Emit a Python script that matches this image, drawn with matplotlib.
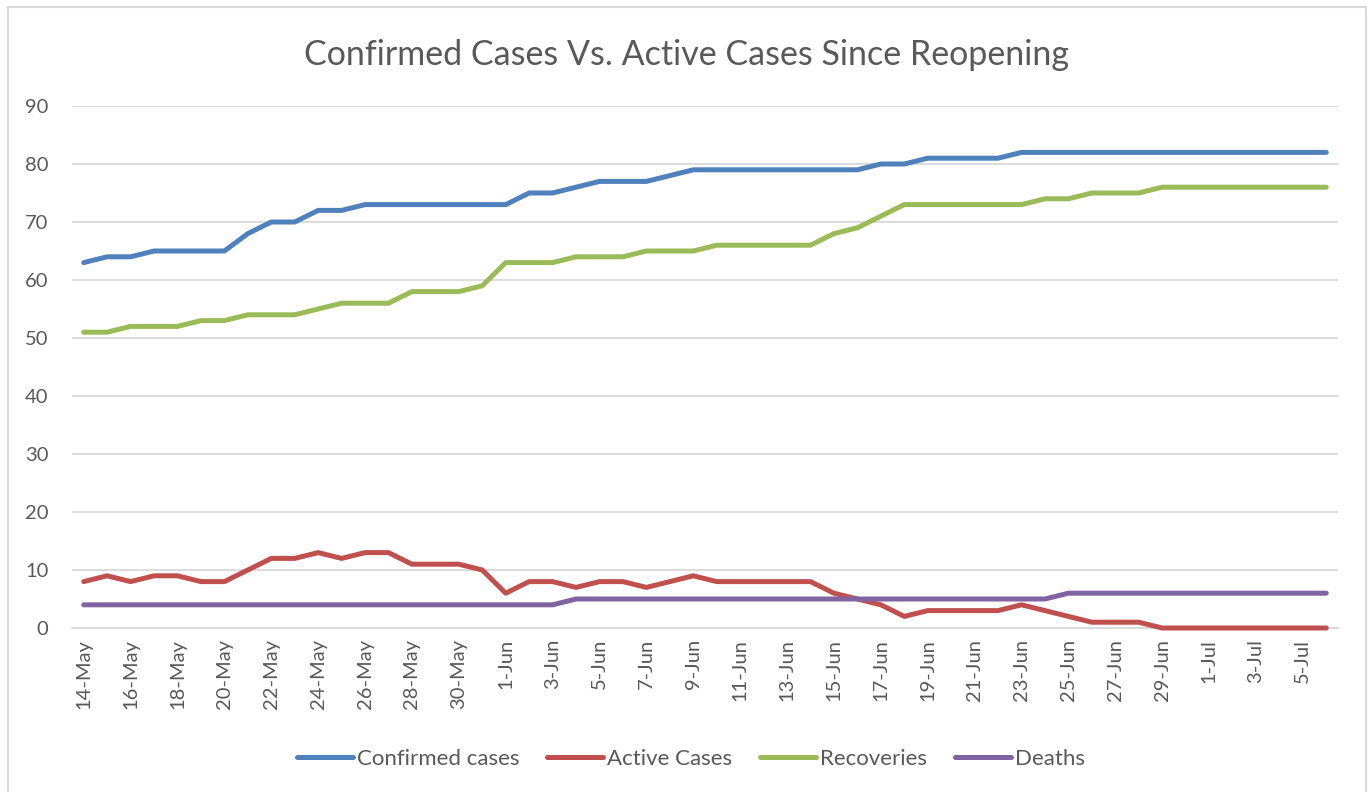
import matplotlib
matplotlib.use("Agg")
import matplotlib.pyplot as plt
import matplotlib.patches as mpatches
import pandas as pd

plt.rcParams['font.family'] = ['Lato', 'DejaVu Sans']

# daily values, 14-May to 6-Jul
dates = pd.date_range("2020-05-14", "2020-07-06", freq="D")

confirmed = [63, 64, 64, 65, 65, 65, 65, 68, 70, 70, 72, 72, 73, 73, 73, 73, 73, 73,
             73, 75, 75, 76, 77, 77, 77, 78, 79, 79, 79, 79, 79, 79, 79, 79, 80, 80,
             81, 81, 81, 81, 82, 82, 82, 82, 82, 82, 82, 82, 82, 82, 82, 82, 82, 82]
active = [8, 9, 8, 9, 9, 8, 8, 10, 12, 12, 13, 12, 13, 13, 11, 11, 11, 10,
          6, 8, 8, 7, 8, 8, 7, 8, 9, 8, 8, 8, 8, 8, 6, 5, 4, 2,
          3, 3, 3, 3, 4, 3, 2, 1, 1, 1, 0, 0, 0, 0, 0, 0, 0, 0]
recoveries = [51, 51, 52, 52, 52, 53, 53, 54, 54, 54, 55, 56, 56, 56, 58, 58, 58, 59,
              63, 63, 63, 64, 64, 64, 65, 65, 65, 66, 66, 66, 66, 66, 68, 69, 71, 73,
              73, 73, 73, 73, 73, 74, 74, 75, 75, 75, 76, 76, 76, 76, 76, 76, 76, 76]
deaths = [4] * 21 + [5] * 21 + [6] * 12

series = [
    ("Confirmed cases", confirmed, "#4F81BD"),
    ("Active Cases", active, "#C0504D"),
    ("Recoveries", recoveries, "#9BBB59"),
    ("Deaths", deaths, "#8064A2"),
]

text_color = "#595959"
grid_color = "#D9D9D9"

fig = plt.figure(figsize=(13.67, 7.92), dpi=100)
ax = fig.add_axes([72 / 1367, 1 - 628 / 792, (1338 - 72) / 1367, (628 - 106) / 792])

x = list(range(len(dates)))
for name, values, color in series:
    ax.plot(x, values, color=color, linewidth=3.6, label=name, zorder=3,
            solid_capstyle="round", solid_joinstyle="round", clip_on=False)

ax.set_xlim(-0.5, len(dates) - 0.5)
ax.set_ylim(0, 90)
ax.set_yticks(range(0, 91, 10))
ax.set_xticks(x[::2])
ax.set_xticklabels([f"{d.day}-{d.strftime('%b')}" for d in dates[::2]], rotation=90)
ax.tick_params(axis="both", length=0, colors=text_color, labelsize=14.5)
ax.tick_params(axis="y", pad=17)
ax.tick_params(axis="x", pad=8)

ax.grid(axis="y", color=grid_color, linewidth=1.3)
ax.set_axisbelow(True)
for side in ["top", "right", "left"]:
    ax.spines[side].set_visible(False)
ax.spines["bottom"].set_color(grid_color)
ax.spines["bottom"].set_linewidth(1.3)

fig.text(687 / 1367, 1 - 55 / 792, "Confirmed Cases Vs. Active Cases Since Reopening",
         ha="center", va="center", fontsize=24.5, color=text_color)

leg = fig.legend(loc="center", bbox_to_anchor=(691 / 1367, 1 - 759 / 792), ncol=4,
                 frameon=False, fontsize=16, handlelength=2.5, handletextpad=0.2,
                 columnspacing=1.25)
for t in leg.get_texts():
    t.set_color(text_color)

# light frame round the chart
fig.patches.append(mpatches.Rectangle((8 / 1367, -0.02), (1366 - 8) / 1367, 1 - 7 / 792 + 0.02,
                                      transform=fig.transFigure, fill=False,
                                      edgecolor=grid_color, linewidth=1.5))

fig.savefig("out.png", dpi=100)
